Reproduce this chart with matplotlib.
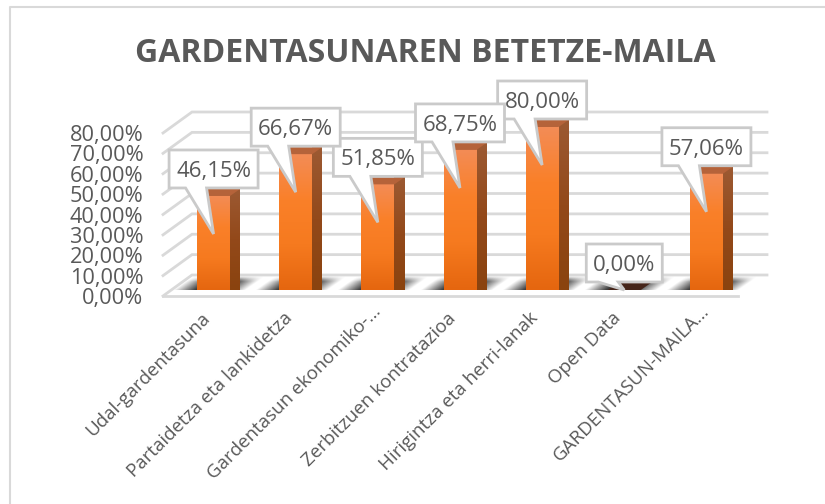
import matplotlib
matplotlib.use("Agg")
import matplotlib.pyplot as plt
import numpy as np
from matplotlib.colors import LinearSegmentedColormap
from matplotlib.patches import Polygon
from matplotlib.transforms import Affine2D, ScaledTranslation

plt.rcParams['font.family'] = ['Open Sans', 'DejaVu Sans']

title = "GARDENTASUNAREN BETETZE-MAILA"
categories = ["Udal-gardentasuna", "Partaidetza eta lankidetza", "Gardentasun ekonomiko-…",
              "Zerbitzuen kontratazioa", "Hirigintza eta herri-lanak", "Open Data",
              "GARDENTASUN-MAILA…"]
values = [46.15, 66.67, 51.85, 68.75, 80.00, 0.00, 57.06]
value_labels = ["46,15%", "66,67%", "51,85%", "68,75%", "80,00%", "0,00%", "57,06%"]
y_ticks = [0, 10, 20, 30, 40, 50, 60, 70, 80]
y_tick_labels = ["0,00%", "10,00%", "20,00%", "30,00%", "40,00%", "50,00%", "60,00%", "70,00%", "80,00%"]

W, H = 825, 504
fig = plt.figure(figsize=(W / 100, H / 100), dpi=100, facecolor="white")

# chart frame
frame = fig.add_axes([0, 0, 1, 1], zorder=0)
frame.set_xlim(0, W); frame.set_ylim(H, 0); frame.axis("off")
frame.plot([9.5, 9.5, W], [H, 6.5, 6.5], color="#D9D9D9", lw=1.5)

# front plane of the 3D box
L, R, T, B = 163, 738, 133, 296
ax = fig.add_axes([L / W, 1 - B / H, (R - L) / W, (B - T) / H], zorder=1)
ax.set_xlim(-0.5, 6.5)
ax.set_ylim(0, 80)
ax.patch.set_alpha(0)
for s in ax.spines.values():
    s.set_visible(False)
PX = 7 / (R - L)          # data units per pixel, x
PY = 80 / (B - T)         # data units per pixel, y
DX, DY = 29 * PX, 21 * PY  # box depth
BX, BY = 9.5 * PX, 6 * PY  # bar position in depth
BW = 33 * PX               # bar width
SX, SY = 10 * PX, 7 * PY   # bar depth
GRID = "#D9D9D9"
TEXT = "#595959"

ax.set_yticks(y_ticks, y_tick_labels, fontsize=15.7, color=TEXT)
ax.set_xticks(range(7), categories, fontsize=13.5, color=TEXT, rotation=45,
              ha="right", va="center", rotation_mode="anchor")
ax.tick_params(axis="both", length=0)
ax.tick_params(axis="y", pad=14)
ax.tick_params(axis="x", pad=14)
for lab, name in zip(ax.get_xticklabels(), categories):
    extra = 7 if name.endswith("…") else 0
    nudge = ScaledTranslation((3 + extra) / 100, extra / 100, fig.dpi_scale_trans)
    lab.set_transform(lab.get_transform() + nudge)

# grid: back wall + side wall
x0, x1 = -0.5, 6.5
for t in y_ticks:
    ax.plot([x0, x0 + DX, x1 + DX], [t, t + DY, t + DY], color=GRID, lw=2,
            clip_on=False, zorder=1, solid_joinstyle="miter")
ax.plot([x0, x1], [0, 0], color=GRID, lw=2, clip_on=False, zorder=1)

def vgrad(stops):
    return LinearSegmentedColormap.from_list("g", stops)

front_cm = vgrad(["#E5660F", "#F67A1F", "#FA8029", "#F38C56"])
side_cm = vgrad(["#8A430F", "#93491A", "#9C5A33"])
ramp = np.linspace(0, 1, 128).reshape(-1, 1)

# soft floor shadow texture (u across, w into depth)
un, wn = 80, 30
uu, ww = np.meshgrid(np.linspace(0, 1, un), np.linspace(0, 1, wn))
fade = (np.clip(uu / 0.3, 0, 1) * np.clip((1 - uu) / 0.3, 0, 1)
        * np.clip((1.0 - ww) / 0.4, 0, 1))
shadow_rgba = np.zeros((wn, un, 4))
shadow_rgba[..., :3] = 0.2
shadow_rgba[..., 3] = fade * 0.95

for i, v in enumerate(values):
    xl = i - BW / 2 + BX
    xr = xl + BW
    y0 = BY
    y1 = v + BY
    shear = Affine2D.from_values(BW + 40 * PX, 0, 20 * PX, 14 * PY, xl - 24 * PX, y0)
    ax.imshow(shadow_rgba, origin="lower", extent=[0, 1, 0, 1], aspect="auto",
              transform=shear + ax.transData, zorder=2, clip_on=False,
              interpolation="bilinear")
    if v > 0:
        ax.imshow(ramp, cmap=front_cm, origin="lower", extent=[xl, xr, y0, y1], aspect="auto",
                  clip_on=False, zorder=3)
        side = ax.imshow(ramp, cmap=side_cm, origin="lower",
                         extent=[xr, xr + SX, y0, y1 + SY], aspect="auto", zorder=3, clip_on=False)
        clip = Polygon([(xr, y0), (xr + SX, y0 + SY), (xr + SX, y1 + SY), (xr, y1)],
                       transform=ax.transData, fc="none", ec="none")
        ax.add_patch(clip)
        side.set_clip_path(clip)
        ax.add_patch(Polygon([(xl, y1), (xr, y1), (xr + SX, y1 + SY), (xl + SX, y1 + SY)],
                             fc="#B5633A", ec="none", clip_on=False, zorder=3))
    else:
        ax.add_patch(Polygon([(xl, y0), (xr, y0), (xr + SX, y0 + SY), (xl + SX, y0 + SY)],
                             fc="#45251A", ec="none", clip_on=False, zorder=3))

# data callouts
ax.set_xlim(-0.5, 6.5)
ax.set_ylim(0, 80)
for i, (v, lab) in enumerate(zip(values, value_labels)):
    cx = i + BX
    if v > 0:
        tip_y = v + BY - 38 * PY
        gap, bh, hw = 46, 38, 44.5
        b0, b1 = -28, -7
    else:
        tip_y = v + BY
        gap, bh, hw = 8, 38, 38
        b0, b1 = -26, -6
    by = tip_y + gap * PY
    tx = cx
    pts = [(tx - hw * PX, by), (tx + b0 * PX, by), (tx, tip_y), (tx + b1 * PX, by),
           (tx + hw * PX, by), (tx + hw * PX, by + bh * PY), (tx - hw * PX, by + bh * PY)]
    ax.add_patch(Polygon(pts, closed=True, fc="white", ec="#CACACA", lw=2, clip_on=False,
                         zorder=5 + i % 2, joinstyle="miter"))
    ax.text(tx, by + bh / 2 * PY, lab, ha="center", va="center_baseline", fontsize=16,
            color=TEXT, zorder=6 + i % 2, clip_on=False)

fig.text(425 / W, 1 - 54 / H, title, ha="center", va="center", fontsize=23,
         fontweight="bold", color=TEXT)

fig.savefig("out.png", dpi=100)
